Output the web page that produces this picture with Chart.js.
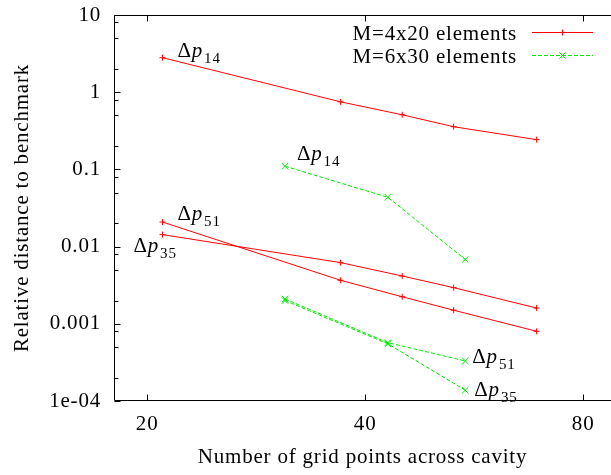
<!DOCTYPE html>
<html><head><meta charset="utf-8">
<script src="https://cdn.jsdelivr.net/npm/chart.js@4/dist/chart.umd.min.js"></script>
<style>html,body{margin:0;padding:0;background:#fff}canvas{display:block}</style>
</head><body>
<canvas id="c" width="611" height="475"></canvas>
<script>
// ---- data ----
const gridPoints4x20 = [21, 37, 45, 53, 69];
const gridPoints6x30 = [31, 43, 55];
const dp14_4x20 = [2.8, 0.75, 0.51, 0.357, 0.243];
const dp51_4x20 = [0.0208, 0.00366, 0.00224, 0.0015, 0.0008];
const dp35_4x20 = [0.0143, 0.0062, 0.00416, 0.00294, 0.0016];
const dp14_6x30 = [0.11, 0.0435, 0.0068];
const dp51_6x30 = [0.0021, 0.00057, 0.00033];
const dp35_6x30 = [0.002, 0.00055, 0.000138];
const seriesNames = ['M=4x20 elements', 'M=6x30 elements'];
const curveSubscripts = ['14', '51', '35', '14', '51', '35'];
const xTickValues = [20, 40, 80];
const yTickValues = [1e-4, 1e-3, 1e-2, 1e-1, 1, 10];
const yTickLabels = ['1e-04', '0.001', '0.01', '0.1', '1', '10'];
const yMinorMultipliers = [2, 5, 8];
const xTitle = 'Number of grid points across cavity';
const yTitle = 'Relative distance to benchmark';

// ---- styles ----
const FONT = '"Liberation Serif", "Times New Roman", serif';
const FSIZE = 21;
const SPACING = '0.8px';
const RED = '#ff0000';
const GREEN = '#00e600';
const styleRed = {borderColor: RED, pointBorderColor: RED, borderDash: [], pointStyle: 'cross', pointRadius: 3};
const styleGreen = {borderColor: GREEN, pointBorderColor: GREEN, borderDash: [4, 2], pointStyle: 'crossRot', pointRadius: 4.5};

function mk(label, xs, ys, st) {
  return Object.assign({
    label: label,
    data: xs.map((x, i) => ({x: x, y: ys[i]})),
    showLine: true, fill: false, tension: 0,
    borderWidth: 1, pointBorderWidth: 1, pointHoverRadius: 0,
    backgroundColor: 'transparent', pointBackgroundColor: 'transparent'
  }, st);
}

const datasets = [
  mk(seriesNames[0], gridPoints4x20, dp14_4x20, styleRed),
  mk(seriesNames[0], gridPoints4x20, dp51_4x20, styleRed),
  mk(seriesNames[0], gridPoints4x20, dp35_4x20, styleRed),
  mk(seriesNames[1], gridPoints6x30, dp14_6x30, styleGreen),
  mk(seriesNames[1], gridPoints6x30, dp51_6x30, styleGreen),
  mk(seriesNames[1], gridPoints6x30, dp35_6x30, styleGreen)
];

// label anchor: [dataset, point index, dx, dy]
const labelAnchors = [[0, 0, 15, -1], [1, 0, 15, -2], [2, 0, -29, 17], [3, 0, 12, -6], [4, 2, 7, 2], [5, 2, 9, 6]];

const spacingPlugin = {
  id: 'spacing',
  beforeUpdate(chart) { chart.ctx.letterSpacing = SPACING; },
  beforeDraw(chart) { chart.ctx.letterSpacing = SPACING; }
};

function drawMarker(ctx, style, x, y, r) {
  ctx.beginPath();
  if (style === 'cross') {
    ctx.moveTo(x - r, y); ctx.lineTo(x + r, y);
    ctx.moveTo(x, y - r); ctx.lineTo(x, y + r);
  } else {
    const d = r * Math.SQRT1_2;
    ctx.moveTo(x - d, y - d); ctx.lineTo(x + d, y + d);
    ctx.moveTo(x - d, y + d); ctx.lineTo(x + d, y - d);
  }
  ctx.stroke();
}

const framePlugin = {
  id: 'frame',
  afterDraw(chart) {
    const ctx = chart.ctx, a = chart.chartArea, xs = chart.scales.x, ys = chart.scales.y;
    ctx.save();
    ctx.letterSpacing = SPACING;
    ctx.strokeStyle = '#000';
    ctx.lineWidth = 1;
    ctx.setLineDash([]);
    const L = Math.round(a.left) + 0.5, T = Math.round(a.top) + 0.5, B = Math.round(a.bottom) - 0.5;
    const R = chart.width + 2;
    ctx.beginPath();
    ctx.moveTo(R, T); ctx.lineTo(L, T); ctx.lineTo(L, B); ctx.lineTo(R, B);
    ctx.stroke();
    ctx.beginPath();
    xTickValues.forEach(v => {
      const px = Math.round(xs.getPixelForValue(v)) + 0.5;
      ctx.moveTo(px, B); ctx.lineTo(px, B - 6);
      ctx.moveTo(px, T); ctx.lineTo(px, T + 6);
    });
    yTickValues.forEach((v, i) => {
      const py = Math.round(ys.getPixelForValue(v)) + 0.5;
      ctx.moveTo(L, py); ctx.lineTo(L + 6, py);
      if (i < yTickValues.length - 1) {
        yMinorMultipliers.forEach(m => {
          const pm = Math.round(ys.getPixelForValue(v * m)) + 0.5;
          ctx.moveTo(L, pm); ctx.lineTo(L + 4, pm);
        });
      }
    });
    ctx.stroke();

    // legend
    ctx.fillStyle = '#000';
    ctx.font = FSIZE + 'px ' + FONT;
    ctx.textAlign = 'right';
    ctx.textBaseline = 'alphabetic';
    const legendRows = [[seriesNames[0], styleRed, 32.5], [seriesNames[1], styleGreen, 55.5]];
    legendRows.forEach(r => {
      ctx.fillText(r[0], 517, r[2] + 7);
      ctx.strokeStyle = r[1].borderColor;
      ctx.setLineDash(r[1].borderDash);
      ctx.beginPath(); ctx.moveTo(532, r[2]); ctx.lineTo(593, r[2]); ctx.stroke();
      ctx.setLineDash([]);
      drawMarker(ctx, r[1].pointStyle, 562.5, r[2], r[1].pointRadius);
    });

    // curve labels  Δp_nn
    ctx.textAlign = 'left';
    ctx.fillStyle = '#000';
    labelAnchors.forEach((la, k) => {
      const pt = chart.getDatasetMeta(la[0]).data[la[1]];
      let x = pt.x + la[2];
      const y = pt.y + la[3];
      ctx.font = FSIZE + 'px ' + FONT;
      ctx.fillText('\u0394', x, y);
      x += ctx.measureText('\u0394').width;
      ctx.font = 'italic ' + FSIZE + 'px ' + FONT;
      ctx.fillText('p', x, y);
      x += ctx.measureText('p').width + 1;
      ctx.font = '15px ' + FONT;
      ctx.fillText(curveSubscripts[k], x, y + 6);
    });
    ctx.restore();
  }
};

Chart.defaults.font.family = FONT;
Chart.defaults.font.size = FSIZE;
Chart.defaults.color = '#000';

new Chart(document.getElementById('c'), {
  type: 'scatter',
  data: {datasets: datasets},
  plugins: [spacingPlugin, framePlugin],
  options: {
    responsive: false,
    animation: false,
    devicePixelRatio: 1,
    layout: {autoPadding: false, padding: {top: 15, left: 0, right: 0, bottom: 0}},
    plugins: {legend: {display: false}, tooltip: {enabled: false}},
    scales: {
      x: {
        type: 'logarithmic', min: 18, max: 87.4,
        afterBuildTicks: s => { s.ticks = xTickValues.map(v => ({value: v})); },
        afterFit: s => { s.height = 74; s.paddingLeft = 0; s.paddingRight = 0; },
        ticks: {autoSkip: false, maxRotation: 0, padding: 11, color: '#000', callback: v => String(v)},
        grid: {display: false, drawTicks: false},
        border: {display: false},
        title: {display: true, text: xTitle, color: '#000', padding: {top: 0, bottom: 5}}
      },
      y: {
        type: 'logarithmic', min: 1e-4, max: 10,
        afterBuildTicks: s => { s.ticks = yTickValues.map(v => ({value: v})); },
        afterFit: s => { s.width = 114; s.paddingTop = 0; s.paddingBottom = 0; },
        ticks: {autoSkip: false, padding: 13, color: '#000', callback: (v, i) => yTickLabels[i]},
        grid: {display: false, drawTicks: false},
        border: {display: false},
        title: {display: true, text: yTitle, color: '#000', padding: {top: 10, bottom: 0}}
      }
    }
  }
});
</script>
</body></html>
